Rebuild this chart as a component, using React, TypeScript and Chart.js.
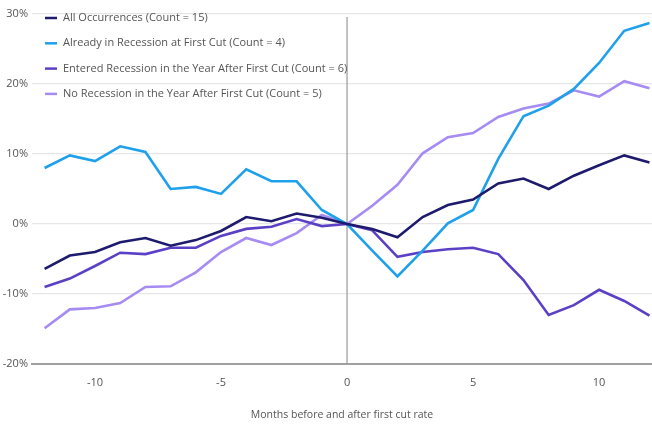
import React, { useEffect, useRef } from "react";
import { Chart, registerables } from "chart.js";

Chart.register(...registerables);

const months = [-12, -11, -10, -9, -8, -7, -6, -5, -4, -3, -2, -1, 0, 1, 2, 3, 4, 5, 6, 7, 8, 9, 10, 11, 12];

const allOccurrences = [-6.4, -4.5, -4.0, -2.6, -2.0, -3.1, -2.3, -1.0, 1.0, 0.4, 1.5, 0.9, 0, -0.7, -1.9, 1.0, 2.7, 3.5, 5.8, 6.5, 5.0, 6.9, 8.4, 9.8, 8.8];
const alreadyInRecession = [8.0, 9.8, 9.0, 11.1, 10.3, 5.0, 5.3, 4.3, 7.8, 6.1, 6.1, 2.0, 0, -3.8, -7.5, -3.8, 0.1, 2.0, 9.3, 15.4, 16.9, 19.3, 23.0, 27.6, 28.7];
const enteredRecession = [-9.0, -7.8, -6.0, -4.1, -4.3, -3.4, -3.4, -1.7, -0.7, -0.4, 0.7, -0.3, 0, -0.9, -4.7, -4.0, -3.6, -3.4, -4.3, -8.0, -13.0, -11.6, -9.4, -11.0, -13.1];
const noRecession = [-14.9, -12.2, -12.0, -11.3, -9.0, -8.9, -6.9, -4.0, -2.0, -3.0, -1.3, 1.3, 0, 2.6, 5.6, 10.1, 12.4, 13.0, 15.3, 16.5, 17.2, 19.1, 18.2, 20.4, 19.4];

const seriesLabels = [
  "All Occurrences (Count = 15)",
  "Already in Recession at First Cut (Count = 4)",
  "Entered Recession in the Year After First Cut (Count = 6)",
  "No Recession in the Year After First Cut (Count = 5)",
];
const seriesColors = ["#1e1b6e", "#1fa0ea", "#5b40c6", "#a68cf2"];
const xTicks = [-10, -5, 0, 5, 10];
const yTicks = [-20, -10, 0, 10, 20, 30];
const xTitle = "Months before and after first cut rate";

const legendPlugin = {
  id: "customLegend",
  afterDraw(chart: any) {
    const ctx = chart.ctx;
    ctx.save();
    ctx.font = "11px 'Open Sans', Arial, sans-serif";
    ctx.textBaseline = "middle";
    chart.data.datasets.forEach((ds: any, i: number) => {
      const y = 18 + i * 25.3;
      ctx.strokeStyle = ds.borderColor;
      ctx.lineWidth = 2.5;
      ctx.beginPath();
      ctx.moveTo(45, y);
      ctx.lineTo(57, y);
      ctx.stroke();
      ctx.fillStyle = "#555555";
      ctx.fillText(ds.label, 63, y);
    });
    ctx.restore();
  },
};

const zeroLinePlugin = {
  id: "zeroLine",
  beforeDatasetsDraw(chart: any) {
    const ctx = chart.ctx;
    const x = chart.scales.x.getPixelForValue(0);
    ctx.save();
    ctx.strokeStyle = "#9a9a9a";
    ctx.lineWidth = 1.2;
    ctx.beginPath();
    ctx.moveTo(x, chart.chartArea.top + 3);
    ctx.lineTo(x, chart.chartArea.bottom);
    ctx.stroke();
    ctx.restore();
  },
};

export default function App() {
  const ref = useRef<HTMLCanvasElement | null>(null);
  useEffect(() => {
    document.body.style.margin = "0";
    const data = [allOccurrences, alreadyInRecession, enteredRecession, noRecession];
    const chart = new Chart(ref.current as HTMLCanvasElement, {
      type: "line",
      data: {
        labels: months,
        datasets: data.map((d, i) => ({
          label: seriesLabels[i],
          data: d.map((v, j) => ({ x: months[j], y: v })),
          borderColor: seriesColors[i],
          backgroundColor: seriesColors[i],
          borderWidth: 2.6,
          pointRadius: 0,
          tension: 0,
        })),
      },
      options: {
        animation: false,
        responsive: false,
        maintainAspectRatio: false,
        layout: { padding: { top: 14, right: 0, left: 0, bottom: 0 } },
        plugins: { legend: { display: false }, tooltip: { enabled: false } },
        scales: {
          x: {
            type: "linear",
            min: -12.5,
            max: 12.1,
            afterBuildTicks: (scale: any) => {
              scale.ticks = xTicks.map((v) => ({ value: v }));
            },
            grid: { display: false, drawTicks: false },
            border: { display: true, color: "#a0a0a0", width: 2 },
            ticks: {
              color: "#555555",
              padding: 12,
              font: { family: "'Open Sans', Arial, sans-serif", size: 11 },
              maxRotation: 0,
            },
            title: {
              display: true,
              text: xTitle,
              color: "#555555",
              font: { family: "'Open Sans', Arial, sans-serif", size: 10.5 },
              padding: { top: 14, bottom: 6 },
            },
            afterFit: (scale: any) => {
              scale.height = 63;
            },
          },
          y: {
            min: -20,
            max: 30,
            afterBuildTicks: (scale: any) => {
              scale.ticks = yTicks.map((v) => ({ value: v }));
            },
            grid: { color: "#e6e6e6", lineWidth: 1.2, drawTicks: false },
            border: { display: false },
            ticks: {
              color: "#555555",
              padding: 4,
              font: { family: "'Open Sans', Arial, sans-serif", size: 11 },
              callback: (v: any) => v + "%",
            },
            afterFit: (scale: any) => {
              scale.width = 32;
            },
          },
        },
      },
      plugins: [zeroLinePlugin, legendPlugin],
    });
    return () => chart.destroy();
  }, []);
  return (
    <div style={{ width: 652, height: 427, background: "#ffffff" }}>
      <canvas ref={ref} width={652} height={427} style={{ width: 652, height: 427 }} />
    </div>
  );
}
